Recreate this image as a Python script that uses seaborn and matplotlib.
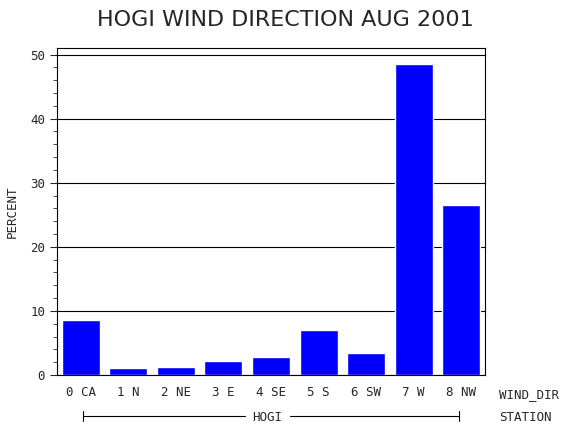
import seaborn as sns
import pandas as pd
import matplotlib.pyplot as plt
from matplotlib.ticker import MultipleLocator

directions = ['0 CA', '1 N', '2 NE', '3 E', '4 SE', '5 S', '6 SW', '7 W', '8 NW']
percent = [8.6, 1.1, 1.25, 2.2, 2.8, 7.05, 3.45, 48.6, 26.5]
station = 'HOGI'

df = pd.DataFrame({'dir': directions, 'pct': percent})

sns.set_style('white')
plt.rcParams['font.family'] = ['DejaVu Sans Mono', 'DejaVu Sans']

fig = plt.figure(figsize=(5.7, 4.3), dpi=100)
ax = fig.add_axes([0.1, 0.128, 0.751, 0.76])
ax.set_axisbelow(True)
ax.yaxis.grid(True, color='black', linewidth=0.8)
sns.barplot(data=df, x='dir', y='pct', color='#0000ff', saturation=1, width=0.8, ax=ax)
ax.set_ylim(0, 51)
ax.set_xlim(-0.5, len(directions) - 0.5)
ax.yaxis.set_major_locator(MultipleLocator(10))
ax.yaxis.set_minor_locator(MultipleLocator(2))
ax.tick_params(axis='y', which='major', length=5, left=True, labelsize=9)
ax.tick_params(axis='y', which='minor', length=3, left=True)
ax.tick_params(axis='x', length=0, labelsize=9, pad=8)
for s in ax.spines.values():
    s.set_color('black')
    s.set_linewidth(0.8)
ax.set_xlabel('')
ax.set_ylabel('PERCENT', fontsize=9, labelpad=8)

fig.text(0.5, 0.94, 'HOGI WIND DIRECTION AUG 2001', ha='center', fontsize=16,
         family='DejaVu Sans')
fig.text(0.875, 0.083, 'WIND_DIR', fontsize=9, va='center')
fig.text(0.875, 0.03, 'STATION', fontsize=9, va='center')
fig.text(0.468, 0.03, station, fontsize=9, ha='center', va='center')
y = 0.033
fig.add_artist(plt.Line2D([0.146, 0.43], [y, y], color='black', lw=0.8))
fig.add_artist(plt.Line2D([0.508, 0.805], [y, y], color='black', lw=0.8))
fig.add_artist(plt.Line2D([0.146, 0.146], [y - 0.012, y + 0.012], color='black', lw=0.8))
fig.add_artist(plt.Line2D([0.805, 0.805], [y - 0.012, y + 0.012], color='black', lw=0.8))

fig.savefig('out.png', dpi=100)
